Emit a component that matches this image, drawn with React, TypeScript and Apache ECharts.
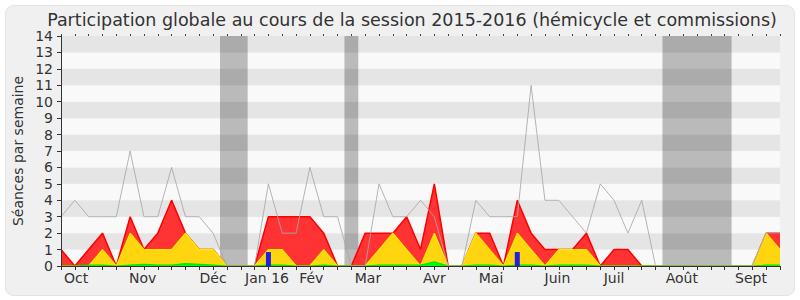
import React, { useEffect, useRef } from "react";
import * as echarts from "echarts";

const weeks: number[] = Array.from({ length: 53 }, (_, i) => i);

const totalSeances = [3, 4, 3, 3, 3, 7, 3, 3, 6, 3, 3, 2, 0, 0, 0, 5, 2, 2, 6, 3, 3, 0, 0, 5, 3, 3, 4, 3, 0, 0, 4, 3, 3, 3, 11, 4, 4, 3, 2, 5, 4, 2, 4, 0, 0, 0, 0, 0, 0, 0, 0, 2, 2];
const presences = [1, 0, 1, 2, 0, 3, 1, 2, 4, 2, 1, 1, 0, 0, 0, 3, 3, 3, 3, 2, 0, 0, 2, 2, 2, 3, 1, 5, 0, 0, 2, 2, 0, 4, 2, 1, 1, 1, 2, 0, 1, 1, 0, 0, 0, 0, 0, 0, 0, 0, 0, 2, 2];
const interventions = [0, 0, 0, 1, 0, 2, 1, 1, 1, 2, 1, 1, 0, 0, 0, 1, 1, 0, 0, 1, 0, 0, 0, 1, 2, 1, 0, 2, 0, 0, 2, 1, 0, 2, 1, 0, 1, 1, 1, 0, 0, 0, 0, 0, 0, 0, 0, 0, 0, 0, 0, 2, 1];
const courtes = [0, 0, 0.05, 0.05, 0, 0.05, 0.1, 0.05, 0.05, 0.15, 0.1, 0.05, 0, 0, 0, 0.05, 0.05, 0, 0, 0.05, 0, 0, 0, 0.05, 0.05, 0.05, 0.05, 0.25, 0, 0, 0.05, 0.05, 0, 0.05, 0.05, 0, 0.05, 0.05, 0.05, 0, 0, 0, 0, 0, 0, 0, 0, 0, 0, 0, 0, 0.05, 0.05];
const questionWeeks = [15, 33];
const questionValues = [0.85, 0.85];

const vacations: [number, number][] = [[11.5, 13.5], [20.5, 21.5], [43.5, 48.5]];

const monthPositions = [1.1, 5.9, 11, 14.9, 18.1, 22.2, 27, 31.1, 35.9, 40, 44.9, 49.9];
const monthLabels = ["Oct", "Nov", "Déc", "Jan 16", "Fév", "Mar", "Avr", "Mai", "Juin", "Juil", "Août", "Sept"];

const titleText = "Participation globale au cours de la session 2015-2016 (hémicycle et commissions)";
const yName = "Séances par semaine";

const FONT = "DejaVu Sans";

export default function App() {
  const ref = useRef<HTMLDivElement>(null);
  useEffect(() => {
    if (!ref.current) return;
    const chart = echarts.init(ref.current, null, { renderer: "svg" });
    const pair = (arr: number[]) => weeks.map((w, i) => [w, arr[i]]);
    const option: any = {
      animation: false,
      backgroundColor: "#ffffff",
      textStyle: { fontFamily: FONT },
      graphic: [
        {
          type: "rect",
          z: -10,
          shape: { x: 5.5, y: 5.5, width: 789, height: 290, r: 8 },
          style: { fill: "#f0f0f0", stroke: "#e2e2e2", lineWidth: 1 },
        },
        {
          type: "text",
          x: 412,
          y: 20,
          style: {
            text: titleText,
            fontFamily: FONT,
            fontSize: 17.5,
            fill: "#333333",
            textAlign: "center",
            textVerticalAlign: "middle",
          },
        },
        {
          type: "text",
          x: 18,
          y: 151,
          rotation: Math.PI / 2,
          style: {
            text: yName,
            fontFamily: FONT,
            fontSize: 14,
            fill: "#333333",
            textAlign: "center",
            textVerticalAlign: "middle",
          },
        },
      ],
      grid: { left: 61, right: 20, top: 36, bottom: 34, containLabel: false },
      xAxis: [
        {
          type: "value",
          min: 0,
          max: 52,
          interval: 1,
          position: "bottom",
          z: 10,
          axisLine: { show: true, lineStyle: { color: "#333333", width: 1 } },
          axisTick: { show: true, length: 4, lineStyle: { color: "#333333" } },
          axisLabel: { show: false },
          splitLine: { show: false },
        },
        {
          type: "value",
          min: 0,
          max: 52,
          position: "bottom",
          axisLine: { show: false },
          axisTick: { show: false },
          splitLine: { show: false },
          axisLabel: {
            show: true,
            customValues: monthPositions,
            margin: 5,
            fontFamily: FONT,
            fontSize: 14,
            color: "#333333",
            formatter: (v: number) => {
              const idx = monthPositions.findIndex((p) => Math.abs(p - v) < 1e-6);
              return idx >= 0 ? monthLabels[idx] : "";
            },
          },
        },
        {
          type: "value",
          min: 0,
          max: 52,
          interval: 1,
          position: "top",
          axisLine: { show: false },
          axisTick: { show: true, length: 2, lineStyle: { color: "#444444" } },
          axisLabel: { show: false },
          splitLine: { show: false },
        },
      ],
      yAxis: [
        {
          type: "value",
          min: 0,
          max: 14,
          interval: 1,
          z: 0,
          axisLine: { show: false },
          axisTick: { show: false },
          axisLabel: { show: false },
          splitLine: { show: false },
          splitArea: { show: true, areaStyle: { color: ["#f9f9f9", "#e5e5e5"] } },
        },
        {
          type: "value",
          min: 0,
          max: 14,
          interval: 1,
          position: "left",
          z: 10,
          axisLine: { show: true, lineStyle: { color: "#333333", width: 1 } },
          axisTick: { show: true, length: 4, lineStyle: { color: "#333333" } },
          axisLabel: { fontFamily: FONT, fontSize: 14, color: "#333333", margin: 8 },
          splitLine: { show: false },
          splitArea: { show: false },
        },
      ],
      series: [
        {
          type: "line",
          name: "vacances",
          data: [],
          symbol: "none",
          z: 1,
          markArea: {
            silent: true,
            itemStyle: { color: "rgba(0,0,0,0.25)" },
            data: vacations.map(([a, b]) => [{ xAxis: a }, { xAxis: b }]),
          },
        },
        {
          type: "line",
          name: "presences",
          data: pair(presences),
          symbol: "none",
          z: 3,
          lineStyle: { color: "#ff0000", width: 1.5 },
          areaStyle: { color: "#ff3333", opacity: 1 },
        },
        {
          type: "line",
          name: "interventions",
          data: pair(interventions),
          symbol: "none",
          z: 4,
          lineStyle: { color: "#ffea00", width: 1.2 },
          areaStyle: { color: "#ffd510", opacity: 1 },
        },
        {
          type: "line",
          name: "courtes",
          data: pair(courtes),
          symbol: "none",
          z: 5,
          lineStyle: { color: "#00e600", width: 1.2 },
          areaStyle: { color: "#00ff00", opacity: 1 },
        },
        {
          type: "line",
          name: "total",
          data: pair(totalSeances),
          symbol: "none",
          z: 6,
          lineStyle: { color: "#a8a8a8", width: 1, opacity: 0.85 },
        },
        {
          type: "bar",
          name: "questions",
          data: questionWeeks.map((w, i) => [w, questionValues[i]]),
          barWidth: 5,
          z: 7,
          itemStyle: { color: "#2020dd" },
        },
      ],
    };
    chart.setOption(option);
    return () => chart.dispose();
  }, []);
  return (
    <div
      ref={ref}
      style={{ position: "absolute", left: 0, top: 0, width: 800, height: 300 }}
    />
  );
}
